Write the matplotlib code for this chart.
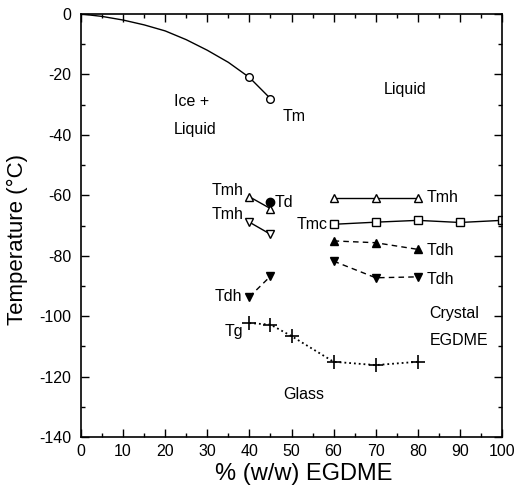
import matplotlib
matplotlib.use("Agg")
import matplotlib.pyplot as plt
from matplotlib.ticker import MultipleLocator, FuncFormatter

plt.rcParams['font.family'] = ['Liberation Sans', 'DejaVu Sans']

# Melting curve (ice + liquid boundary)
tm_curve_x = [0, 5, 10, 15, 20, 25, 30, 35, 40]
tm_curve_y = [0, -0.8, -2.0, -3.6, -5.6, -8.5, -12.0, -16.0, -21.0]
tm_x = [40, 45]
tm_y = [-21.0, -28.0]

# Left branch (40-45 %)
tmh_up_left_x = [40, 45]
tmh_up_left_y = [-60.5, -64.4]
td_x = [45]
td_y = [-62.3]
tmh_dn_left_x = [40, 45]
tmh_dn_left_y = [-68.9, -72.9]
tdh_dn_left_x = [40, 45]
tdh_dn_left_y = [-93.6, -86.8]

# Glass transition
tg_x = [40, 45, 50, 60, 70, 80]
tg_y = [-102.3, -102.8, -106.6, -115.1, -116.2, -115.1]

# Right branch (60-100 %)
tmh_right_x = [60, 70, 80]
tmh_right_y = [-60.8, -60.8, -60.8]
tmc_x = [60, 70, 80, 90, 100]
tmc_y = [-69.6, -68.9, -68.3, -69.0, -68.3]
tdh_up_right_x = [60, 70, 80]
tdh_up_right_y = [-75.1, -75.7, -77.9]
tdh_dn_right_x = [60, 70, 80]
tdh_dn_right_y = [-81.8, -87.3, -87.0]

fig = plt.figure(figsize=(5.15, 4.96), dpi=100)
ax = fig.add_axes([81/515, 1-437/496, (502-81)/515, (437-14)/496])

k = 'black'
ms = 6
ax.plot(tm_curve_x, tm_curve_y, '-', color=k, lw=1)
ax.plot(tm_x, tm_y, '-', color=k, lw=1, marker='o', mfc='white', mec=k, ms=5.5)

ax.plot(tmh_up_left_x, tmh_up_left_y, '-', color=k, lw=1, marker='^', mfc='white', mec=k, ms=ms)
ax.plot(td_x, td_y, 'o', color=k, ms=ms)
ax.plot(tmh_dn_left_x, tmh_dn_left_y, '-', color=k, lw=1, marker='v', mfc='white', mec=k, ms=ms)
ax.plot(tdh_dn_left_x, tdh_dn_left_y, '--', color=k, lw=1, marker='v', mfc=k, mec=k, ms=ms, dashes=(4, 3))

ax.plot(tg_x, tg_y, ':', color=k, lw=1.3, marker='+', ms=10, mew=1.2)

ax.plot(tmh_right_x, tmh_right_y, '-', color=k, lw=1, marker='^', mfc='white', mec=k, ms=ms)
ax.plot(tmc_x, tmc_y, '-', color=k, lw=1, marker='s', mfc='white', mec=k, ms=ms-0.5)
ax.plot(tdh_up_right_x, tdh_up_right_y, '--', color=k, lw=1, marker='^', mfc=k, mec=k, ms=ms, dashes=(4, 3))
ax.plot(tdh_dn_right_x, tdh_dn_right_y, '--', color=k, lw=1, marker='v', mfc=k, mec=k, ms=ms, dashes=(4, 3))

fs = 11.5
ax.text(22.0, -29.0, 'Ice +', fontsize=fs, va='center')
ax.text(22.0, -38.3, 'Liquid', fontsize=fs, va='center')
ax.text(72.0, -25.0, 'Liquid', fontsize=fs, va='center')
ax.text(48.0, -33.8, 'Tm', fontsize=fs, va='center')
ax.text(38.6, -58.5, 'Tmh', fontsize=fs, va='center', ha='right')
ax.text(46.0, -62.3, 'Td', fontsize=fs, va='center')
ax.text(38.6, -66.5, 'Tmh', fontsize=fs, va='center', ha='right')
ax.text(58.6, -69.8, 'Tmc', fontsize=fs, va='center', ha='right')
ax.text(82.2, -60.8, 'Tmh', fontsize=fs, va='center')
ax.text(82.2, -78.3, 'Tdh', fontsize=fs, va='center')
ax.text(82.2, -88.0, 'Tdh', fontsize=fs, va='center')
ax.text(38.2, -93.6, 'Tdh', fontsize=fs, va='center', ha='right')
ax.text(38.6, -105.0, 'Tg', fontsize=fs, va='center', ha='right')
ax.text(82.8, -99.0, 'Crystal', fontsize=fs, va='center')
ax.text(82.8, -108.0, 'EGDME', fontsize=fs, va='center')
ax.text(53.0, -126.0, 'Glass', fontsize=fs, va='center', ha='center')

ax.set_xlim(0, 100)
ax.set_ylim(-140, 0)
ax.xaxis.set_major_locator(MultipleLocator(10))
ax.xaxis.set_minor_locator(MultipleLocator(5))
ax.yaxis.set_major_locator(MultipleLocator(20))
ax.yaxis.set_minor_locator(MultipleLocator(10))
fmt = FuncFormatter(lambda v, p: '%d' % v)
ax.xaxis.set_major_formatter(fmt)
ax.yaxis.set_major_formatter(fmt)
ax.tick_params(which='both', direction='in', top=True, right=True, labelsize=11.5)
ax.tick_params(which='major', length=6, width=1)
ax.tick_params(which='minor', length=3, width=1)
ax.tick_params(axis='x', pad=5)
ax.tick_params(axis='y', pad=7)
for s in ax.spines.values():
    s.set_linewidth(1.2)

ax.set_xlabel('% (w/w) EGDME', fontsize=17)
ax.xaxis.set_label_coords(0.528, -0.062)
ax.set_ylabel('Temperature (°C)', fontsize=16)
ax.yaxis.set_label_coords(-0.125, 0.466)

fig.savefig('out.png', dpi=100)
